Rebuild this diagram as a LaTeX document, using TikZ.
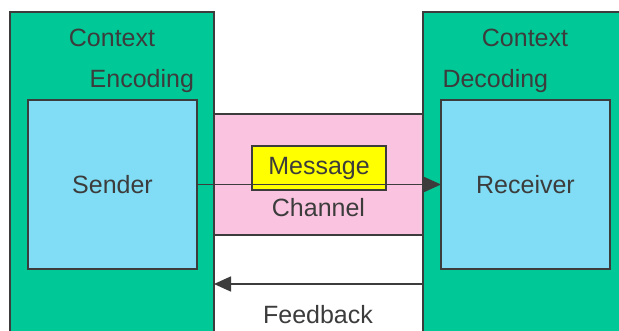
\documentclass[tikz,border=0pt]{standalone}
\usepackage{fontspec}
\setmainfont{Liberation Sans}
\usetikzlibrary{positioning}
\usetikzlibrary{arrows.meta}
\tikzstyle{diagram} = [x = 1pt, y = -1pt, every node/.style={font=\fontsize{25}{28}\selectfont, text=textColor}]
\definecolor{textColor}{RGB}{60,60,60}
\definecolor{contextColor}{RGB}{0,201,151}
\definecolor{personColor}{RGB}{128,221,245}
\definecolor{channelColor}{RGB}{250,196,224}
\definecolor{messageColor}{RGB}{255,255,0}
\tikzstyle{boxStyle} = [draw=textColor, line width=1.2pt, inner sep=0pt, outer sep=0pt]
\tikzstyle{contextBox} = [boxStyle, fill=contextColor]
\tikzstyle{personBox} = [boxStyle, fill=personColor, minimum width=169pt, minimum height=169pt]
\tikzstyle{flowLine} = [draw=textColor, line width=1.6pt, -{Triangle[length=17pt, width=15pt]}]
\newcommand{\contextBox}[4]{\node [contextBox, minimum width=#3pt, minimum height=#4pt] (#1) at #2 {};}

\begin{document}
\begin{tikzpicture}[diagram]
          \clip (0,0) rectangle (619,331);
          \fill [white] (0,0) rectangle (619,331);
          \contextBox{senderContext}{(112,178.5)}{204}{333}
          \contextBox{receiverContext}{(526.5,178.5)}{207}{333}
          \node [boxStyle, fill=channelColor, minimum width=209pt, minimum height=121pt] (channel) at (318.5,174.5) {};
          \node [personBox] (sender) at (112.5,184.5) {Sender};
          \node [personBox] (receiver) at (525.5,184.5) {Receiver};
          \node [boxStyle, fill=messageColor, minimum width=134pt, minimum height=44pt] (message) at (319,168) {Message};
          \node (channelText) at (318.5,208) {Channel};
          \node (senderContextText) at (112,38) {Context};
          \node (receiverContextText) at (525,38) {Context};
          \node [anchor=east] (encoding) at (197.5,81) {Encoding};
          \node [anchor=west] (decoding) at (439,81) {Decoding};
          \coordinate (feedbackLevel) at (318,284);
          \node (feedback) at (318,315) {Feedback};
          \draw [flowLine] (sender.east) -- (receiver.west);
          \draw [flowLine] (receiverContext.west |- feedbackLevel) -- (senderContext.east |- feedbackLevel);
        \end{tikzpicture}
\end{document}
